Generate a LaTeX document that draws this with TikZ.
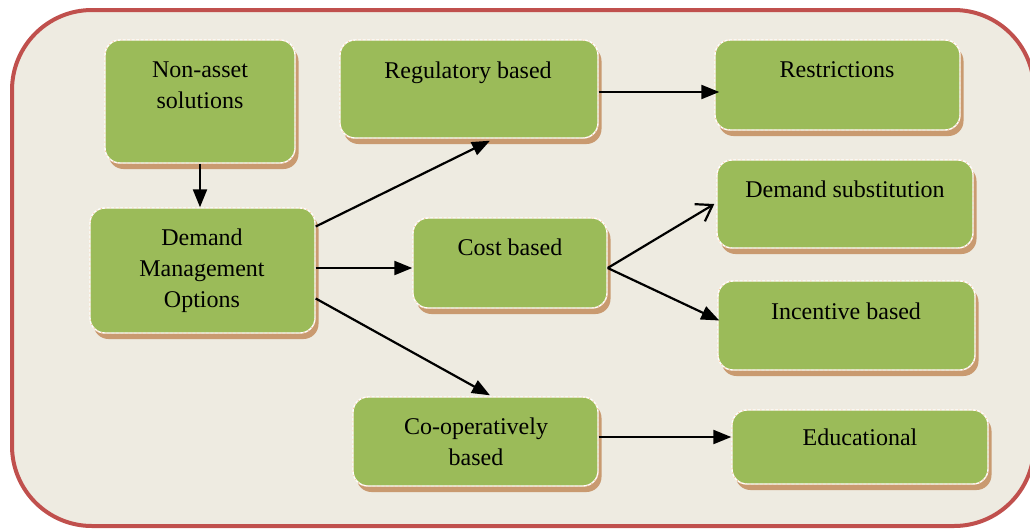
\documentclass[tikz,border=0pt]{standalone}
\usepackage{fontspec}
\setmainfont{Liberation Serif}
\usetikzlibrary{arrows.meta,shadows}

\definecolor{panel}{HTML}{EEEBE1}
\definecolor{frame}{HTML}{C0504D}
\definecolor{leaf}{HTML}{9BBB59}
\definecolor{shade}{HTML}{C99A70}
\definecolor{peach}{HTML}{F9CBA5}

\tikzset{
  box/.style={rectangle, rounded corners=15pt, fill=leaf, draw=white, line width=1.4pt,
    general shadow={fill=shade, shadow xshift=3.5pt, shadow yshift=-6pt},
    postaction={draw=peach, line width=0.8pt, dash pattern=on 1.5pt off 3pt},
    inner sep=0pt},
  label/.style={anchor=north, inner sep=0pt, align=center, font=\fontsize{24}{31}\selectfont},
  link/.style={line width=2.2pt, -{Triangle[length=18pt,width=14pt]}},
  openlink/.style={line width=2.2pt, -{Straight Barb[length=15pt,width=20pt,line width=2.2pt]}}
}

\begin{document}
\begin{tikzpicture}[x=1pt,y=-1pt]
  \useasboundingbox (0,0) rectangle (1030,528);
  \clip (0,0) rectangle (1030,528);

  % panel behind the chart
  \draw[fill=panel, draw=frame, line width=4pt, rounded corners=80pt] (12,10) rectangle (1034,526);

  % boxes
  \node[box, minimum width=190pt, minimum height=123pt] (nonasset) at (200,101.5) {};
  \node[box, minimum width=225pt, minimum height=125pt] (dmo) at (202.5,270.5) {};
  \node[box, minimum width=258pt, minimum height=98pt] (reg) at (469,89) {};
  \node[box, minimum width=245pt, minimum height=90pt] (restr) at (837.5,85) {};
  \node[box, minimum width=194pt, minimum height=90pt] (cost) at (510,263) {};
  \node[box, minimum width=256pt, minimum height=88pt] (dsub) at (845,204) {};
  \node[box, minimum width=257pt, minimum height=89pt] (incent) at (846.5,325.5) {};
  \node[box, minimum width=245pt, minimum height=89pt] (coop) at (475.5,441.5) {};
  \node[box, minimum width=256pt, minimum height=74pt] (edu) at (860,447) {};

  % box texts
  \node[label] (t1) at (200,62) {Non-asset\\solutions};
  \node[label] (t2) at (202,229) {Demand\\Management\\Options};
  \node[label] (t3) at (468,62) {Regulatory based};
  \node[label] (t4) at (837,61) {Restrictions};
  \node[label] (t5) at (510,239) {Cost based};
  \node[label] (t6) at (845,181) {Demand substitution};
  \node[label] (t7) at (846,303) {Incentive based};
  \node[label] (t8) at (476,418) {Co-operatively\\based};
  \node[label] (t9) at (860,429) {Educational};

  % connectors
  \draw[link] (nonasset.south) -- (nonasset.south |- dmo.north);
  \draw[link] ([yshift=44pt]dmo.east) -- ([xshift=21pt,yshift=-2pt]reg.south);
  \draw[link] ([yshift=2.5pt]dmo.east) -- ([yshift=-5pt]cost.west);
  \draw[link] ([yshift=-28pt]dmo.east) -- ([xshift=14.5pt,yshift=1pt]coop.north);
  \draw[link] ([yshift=-3pt]reg.east) -- ([xshift=5pt,yshift=-7pt]restr.west);
  \draw[openlink] ([yshift=-5pt]cost.east) -- ([xshift=-2pt]dsub.west);
  \draw[link] ([yshift=-5pt]cost.east) -- ([xshift=2pt,yshift=5pt]incent.west);
  \draw[link] ([yshift=4.5pt]coop.east) -- ([yshift=10pt]edu.west);
\end{tikzpicture}
\end{document}
